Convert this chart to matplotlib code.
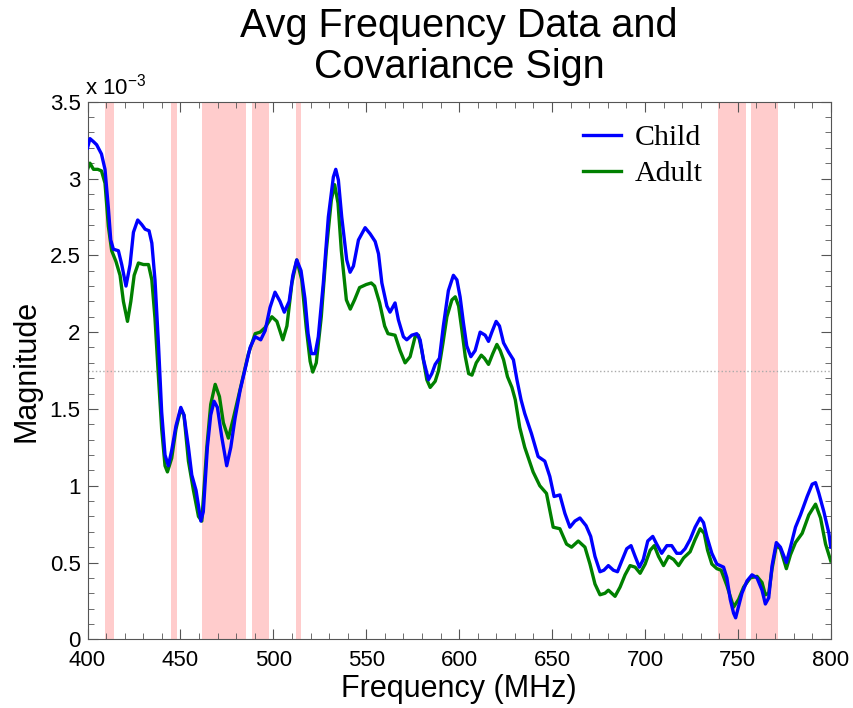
import matplotlib
matplotlib.use("Agg")
import matplotlib.pyplot as plt
from matplotlib.ticker import MultipleLocator

plt.rcParams['font.family'] = ['Liberation Sans', 'DejaVu Sans']
plt.rcParams['mathtext.default'] = 'regular'

# traced curves, magnitude in units of 1e-3
child_freq = [400.0, 401.3, 403.2, 404.9, 407.5, 409.4, 411.2, 412.5, 413.9, 416.6,
              418.4, 420.7, 422.9, 424.7, 427.0, 429.2, 431.0, 433.1, 434.6, 436.3,
              438.1, 439.9, 441.7, 443.5, 445.3, 447.6, 450.2, 451.9, 454.3, 456.1,
              458.4, 461.0, 462.3, 464.5, 466.3, 468.1, 469.9, 472.2, 474.9, 477.1,
              479.4, 482.1, 484.8, 487.5, 490.2, 493.2, 495.6, 498.2, 500.9, 503.6,
              505.9, 508.5, 510.5, 512.6, 514.9, 517.0, 518.7, 520.5, 522.5, 524.2,
              526.9, 529.6, 532.3, 533.6, 535.0, 536.8, 539.5, 541.3, 543.1, 545.8,
              549.4, 552.1, 554.8, 556.6, 558.4, 561.1, 562.8, 565.5, 567.3, 570.0,
              571.8, 574.5, 577.2, 579.0, 580.8, 583.5, 585.3, 587.1, 589.4, 591.5,
              594.2, 596.9, 598.8, 600.5, 602.3, 604.1, 606.3, 608.6, 611.3, 614.0,
              615.8, 617.6, 619.9, 621.7, 623.9, 626.6, 629.2, 631.1, 633.3, 635.3,
              638.9, 642.5, 646.1, 648.8, 651.1, 654.2, 656.9, 659.6, 662.3, 665.0,
              668.3, 670.8, 673.1, 675.8, 677.9, 680.3, 683.0, 685.2, 687.5, 690.2,
              692.5, 694.7, 697.0, 699.1, 701.5, 704.2, 706.3, 709.0, 711.8, 714.4,
              717.1, 719.3, 721.6, 724.3, 727.0, 729.7, 731.5, 733.3, 736.0, 738.7,
              742.3, 744.1, 745.9, 747.7, 748.8, 752.2, 754.9, 757.6, 760.3, 763.0,
              764.8, 766.6, 768.4, 770.7, 772.9, 776.1, 778.3, 781.0, 783.7, 787.3,
              790.0, 791.8, 793.6, 796.3, 799.0, 800.0]
child_mag = [3.20, 3.26, 3.24, 3.22, 3.16, 3.06, 2.81, 2.60, 2.54, 2.53,
             2.44, 2.30, 2.44, 2.65, 2.73, 2.70, 2.67, 2.66, 2.58, 2.34,
             1.94, 1.48, 1.20, 1.13, 1.23, 1.39, 1.51, 1.46, 1.25, 1.07,
             0.97, 0.77, 0.83, 1.25, 1.46, 1.55, 1.51, 1.32, 1.13, 1.25,
             1.44, 1.62, 1.76, 1.90, 1.97, 1.95, 2.01, 2.16, 2.26, 2.20,
             2.13, 2.20, 2.37, 2.47, 2.40, 2.22, 1.99, 1.86, 1.86, 1.97,
             2.32, 2.75, 3.01, 3.06, 2.99, 2.75, 2.47, 2.39, 2.43, 2.60,
             2.68, 2.64, 2.59, 2.51, 2.32, 2.17, 2.13, 2.19, 2.08, 1.97,
             1.95, 1.98, 1.99, 1.95, 1.82, 1.69, 1.73, 1.79, 1.83, 2.04,
             2.27, 2.37, 2.34, 2.23, 2.06, 1.91, 1.84, 1.88, 2.00, 1.98,
             1.94, 2.00, 2.07, 2.04, 1.93, 1.87, 1.82, 1.69, 1.56, 1.47,
             1.34, 1.19, 1.16, 1.06, 0.93, 0.94, 0.82, 0.73, 0.77, 0.79,
             0.74, 0.67, 0.54, 0.44, 0.45, 0.48, 0.45, 0.44, 0.51, 0.59,
             0.61, 0.54, 0.47, 0.52, 0.64, 0.67, 0.62, 0.56, 0.61, 0.61,
             0.56, 0.56, 0.59, 0.65, 0.73, 0.79, 0.76, 0.67, 0.56, 0.49,
             0.47, 0.40, 0.26, 0.17, 0.14, 0.30, 0.38, 0.42, 0.40, 0.32,
             0.23, 0.27, 0.48, 0.63, 0.60, 0.50, 0.60, 0.73, 0.81, 0.93,
             1.01, 1.02, 0.95, 0.83, 0.69, 0.60]

adult_freq = [400.0, 401.3, 403.2, 405.5, 407.5, 409.4, 411.2, 413.0, 415.3, 417.5,
              419.3, 421.5, 423.3, 425.1, 427.4, 430.1, 432.8, 434.6, 436.3, 438.1,
              439.9, 441.7, 443.0, 445.3, 447.6, 450.2, 451.9, 454.3, 457.0, 459.7,
              461.5, 464.2, 466.3, 468.7, 471.0, 473.1, 475.8, 478.5, 481.2, 483.9,
              486.6, 490.2, 492.9, 495.6, 499.2, 501.9, 505.1, 507.3, 510.0, 512.6,
              515.3, 517.7, 519.8, 521.2, 523.1, 525.8, 528.5, 531.2, 533.0, 534.8,
              536.6, 539.3, 541.4, 543.7, 546.4, 550.0, 552.7, 554.5, 557.2, 559.9,
              561.7, 565.5, 568.2, 570.9, 573.6, 576.3, 578.1, 579.9, 582.6, 584.4,
              587.1, 588.9, 591.3, 593.4, 596.1, 597.9, 599.7, 601.5, 603.3, 605.1,
              606.9, 609.2, 611.9, 613.6, 615.8, 618.1, 620.3, 622.1, 623.9, 626.0,
              628.4, 630.2, 632.6, 635.3, 639.8, 643.4, 647.0, 650.6, 654.2, 657.8,
              660.5, 664.1, 667.7, 670.4, 673.1, 675.8, 678.5, 680.3, 683.9, 686.6,
              689.3, 692.0, 694.7, 697.4, 700.1, 702.8, 705.0, 707.3, 710.0, 712.7,
              715.4, 718.1, 720.8, 724.3, 727.0, 729.7, 731.9, 733.7, 736.0, 738.7,
              741.0, 744.1, 747.7, 750.4, 753.1, 756.7, 760.3, 763.0, 764.8, 766.6,
              768.4, 770.7, 772.9, 776.1, 778.3, 781.0, 784.6, 788.2, 791.8, 794.5,
              797.2, 800.0]
adult_mag = [3.06, 3.10, 3.06, 3.06, 3.05, 2.97, 2.69, 2.53, 2.46, 2.37,
             2.20, 2.07, 2.20, 2.37, 2.45, 2.44, 2.44, 2.34, 2.09, 1.72,
             1.37, 1.13, 1.09, 1.18, 1.37, 1.50, 1.46, 1.16, 0.97, 0.80,
             0.77, 1.25, 1.53, 1.66, 1.58, 1.41, 1.31, 1.44, 1.58, 1.72,
             1.86, 1.99, 2.00, 2.03, 2.10, 2.07, 1.95, 2.04, 2.32, 2.47,
             2.34, 2.03, 1.81, 1.74, 1.80, 2.10, 2.53, 2.86, 2.96, 2.84,
             2.53, 2.21, 2.15, 2.21, 2.29, 2.31, 2.32, 2.30, 2.19, 2.04,
             1.99, 1.98, 1.88, 1.80, 1.84, 1.97, 1.98, 1.88, 1.69, 1.64,
             1.68, 1.75, 1.93, 2.10, 2.21, 2.23, 2.17, 2.01, 1.84, 1.73,
             1.72, 1.80, 1.85, 1.83, 1.79, 1.86, 1.92, 1.88, 1.82, 1.71,
             1.64, 1.56, 1.38, 1.25, 1.09, 1.00, 0.95, 0.73, 0.72, 0.62,
             0.60, 0.64, 0.60, 0.49, 0.36, 0.29, 0.30, 0.32, 0.28, 0.34,
             0.42, 0.48, 0.47, 0.43, 0.49, 0.58, 0.61, 0.54, 0.48, 0.54,
             0.52, 0.48, 0.53, 0.57, 0.65, 0.72, 0.69, 0.58, 0.49, 0.46,
             0.45, 0.35, 0.21, 0.26, 0.34, 0.40, 0.41, 0.37, 0.29, 0.30,
             0.46, 0.61, 0.59, 0.46, 0.55, 0.63, 0.69, 0.81, 0.88, 0.79,
             0.62, 0.51]

# frequency bands where the covariance sign flips (shaded)
band_start = [409.4, 444.8, 461.5, 488.3, 512.2, 739.4, 757.1]
band_end = [414.4, 448.3, 485.1, 497.9, 514.9, 754.4, 771.6]

threshold = 1.75

fig = plt.figure(figsize=(8.54, 7.08), dpi=100)
ax = fig.add_axes([0.1025, 0.097, 0.8703, 0.7593])

for s, e in zip(band_start, band_end):
    ax.axvspan(s, e, color='#ffcccc', lw=0, zorder=0)

ax.axhline(threshold, color='#aaaaaa', ls=':', lw=1, zorder=1)

ax.plot(child_freq, child_mag, color='#0000ff', lw=2.4, label='Child', zorder=3)
ax.plot(adult_freq, adult_mag, color='#008000', lw=2.4, label='Adult', zorder=2)

ax.set_xlim(400, 800)
ax.set_ylim(0, 3.5)
ax.xaxis.set_major_locator(MultipleLocator(50))
ax.xaxis.set_minor_locator(MultipleLocator(10))
ax.yaxis.set_minor_locator(MultipleLocator(0.1))
ax.set_yticks([0, 0.5, 1, 1.5, 2, 2.5, 3, 3.5])
ax.set_yticklabels(['0', '0.5', '1', '1.5', '2', '2.5', '3', '3.5'])
ax.tick_params(which='both', direction='in', top=True, right=True, color='#555555',
               labelsize=16)
ax.tick_params(axis='x', pad=8)
ax.tick_params(axis='y', pad=5)
ax.tick_params(which='major', length=7)
ax.tick_params(which='minor', length=4)
for sp in ax.spines.values():
    sp.set_color('#555555')

ax.set_xlabel('Frequency (MHz)', fontsize=22, labelpad=2)
ax.set_ylabel('Magnitude', fontsize=22, labelpad=6)
ax.set_title('Avg Frequency Data and\nCovariance Sign', fontsize=28.5, pad=17,
             linespacing=1.1)
ax.text(-0.003, 1.005, r'x 10$^{-3}$', transform=ax.transAxes, fontsize=16,
        ha='left', va='bottom')

ax.legend(loc='upper left', bbox_to_anchor=(0.63, 1.008), frameon=False,
          prop={'family': 'Liberation Serif', 'size': 21.5}, handlelength=1.3,
          handletextpad=0.45, labelspacing=0.3, borderpad=0.4)

fig.savefig('out.png', dpi=100)
